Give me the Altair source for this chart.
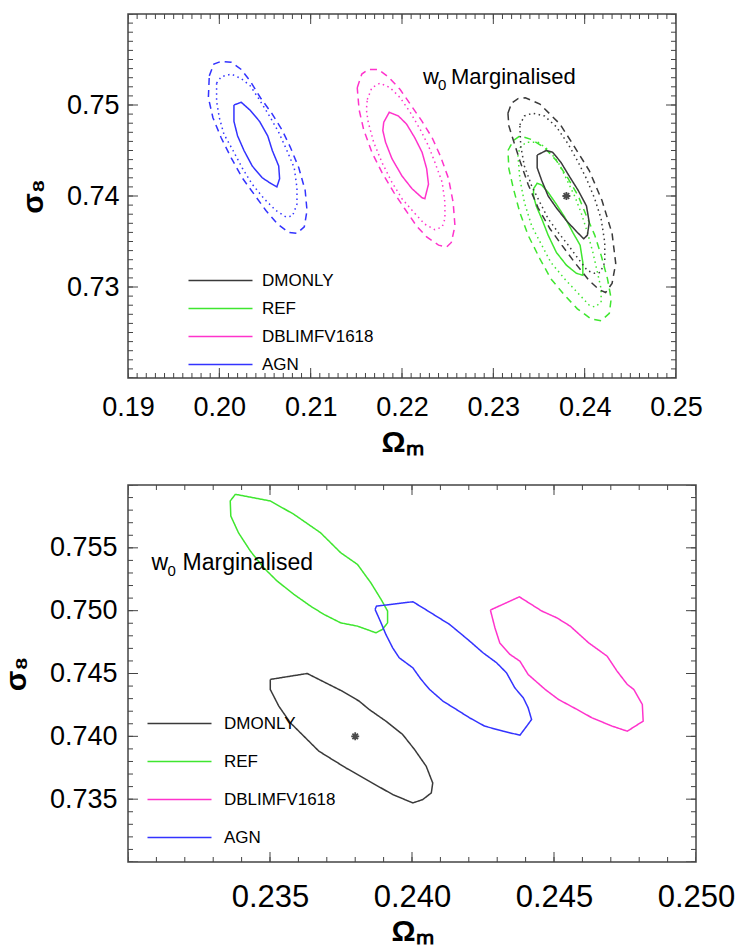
import altair as alt
import pandas as pd

FONT = "Liberation Sans, Arial, Helvetica, sans-serif"
MODELS = ["DMONLY", "REF", "DBLIMFV1618", "AGN"]
COLORS = ["#3a3a3a", "#3fe62f", "#ff33cc", "#3333ff"]
LEVELS = ["solid", "dotted", "dashed"]
DASHES = [[1, 0], [1.5, 3.5], [7, 5]]

# ---------------- top panel (0.19-0.25 x 0.72-0.76) ----------------
TOP_AGN_SOLID_X = [0.2016, 0.2024, 0.2034, 0.2044, 0.2053, 0.2058, 0.2065, 0.2066, 0.2063, 0.2056, 0.2047, 0.2036, 0.2027, 0.2020, 0.2016]
TOP_AGN_SOLID_Y = [0.7500, 0.7503, 0.7494, 0.7482, 0.7466, 0.7450, 0.7433, 0.7419, 0.7410, 0.7414, 0.7420, 0.7433, 0.7450, 0.7466, 0.7482]
TOP_AGN_DOT_X = [0.1997, 0.2002, 0.2013, 0.2024, 0.2034, 0.2045, 0.2056, 0.2065, 0.2074, 0.2082, 0.2085, 0.2085, 0.2080, 0.2073, 0.2062, 0.2049, 0.2036, 0.2025, 0.2015, 0.2005, 0.2000, 0.1997]
TOP_AGN_DOT_Y = [0.7524, 0.7531, 0.7534, 0.7529, 0.7521, 0.7504, 0.7486, 0.7470, 0.7450, 0.7431, 0.7409, 0.7391, 0.7378, 0.7377, 0.7384, 0.7397, 0.7413, 0.7431, 0.7450, 0.7468, 0.7486, 0.7504]
TOP_AGN_DASH_X = [0.1989, 0.1994, 0.2002, 0.2013, 0.2024, 0.2034, 0.2045, 0.2058, 0.2069, 0.2078, 0.2087, 0.2094, 0.2096, 0.2093, 0.2085, 0.2076, 0.2064, 0.2051, 0.2038, 0.2025, 0.2013, 0.2002, 0.1993, 0.1988]
TOP_AGN_DASH_Y = [0.7532, 0.7545, 0.7548, 0.7547, 0.7539, 0.7526, 0.7508, 0.7490, 0.7472, 0.7453, 0.7431, 0.7406, 0.7384, 0.7366, 0.7359, 0.7360, 0.7369, 0.7384, 0.7402, 0.7420, 0.7442, 0.7464, 0.7486, 0.7508]

TOP_DBL_SOLID_X = [0.2180, 0.2186, 0.2196, 0.2205, 0.2214, 0.2222, 0.2227, 0.2229, 0.2225, 0.2222, 0.2211, 0.2200, 0.2189, 0.2182, 0.2179]
TOP_DBL_SOLID_Y = [0.7481, 0.7492, 0.7488, 0.7479, 0.7464, 0.7448, 0.7430, 0.7413, 0.7397, 0.7398, 0.7408, 0.7422, 0.7441, 0.7459, 0.7472]
TOP_DBL_DOT_X = [0.2162, 0.2167, 0.2176, 0.2187, 0.2198, 0.2209, 0.2220, 0.2229, 0.2236, 0.2244, 0.2247, 0.2247, 0.2244, 0.2236, 0.2225, 0.2213, 0.2200, 0.2189, 0.2178, 0.2169, 0.2163, 0.2161]
TOP_DBL_DOT_Y = [0.7506, 0.7519, 0.7524, 0.7519, 0.7508, 0.7492, 0.7473, 0.7455, 0.7437, 0.7415, 0.7393, 0.7375, 0.7366, 0.7363, 0.7369, 0.7382, 0.7397, 0.7415, 0.7437, 0.7459, 0.7481, 0.7495]
TOP_DBL_DASH_X = [0.2151, 0.2156, 0.2163, 0.2174, 0.2185, 0.2198, 0.2209, 0.2222, 0.2233, 0.2242, 0.2251, 0.2256, 0.2258, 0.2254, 0.2249, 0.2240, 0.2227, 0.2216, 0.2203, 0.2191, 0.2178, 0.2167, 0.2158, 0.2153]
TOP_DBL_DASH_Y = [0.7519, 0.7534, 0.7539, 0.7539, 0.7531, 0.7517, 0.7501, 0.7482, 0.7464, 0.7444, 0.7419, 0.7393, 0.7367, 0.7349, 0.7344, 0.7346, 0.7355, 0.7367, 0.7386, 0.7404, 0.7426, 0.7448, 0.7473, 0.7495]

TOP_DM_SOLID_X = [0.2348, 0.2358, 0.2365, 0.2374, 0.2383, 0.2393, 0.2402, 0.2405, 0.2403, 0.2399, 0.2391, 0.2380, 0.2369, 0.2360, 0.2353, 0.2348]
TOP_DM_SOLID_Y = [0.7445, 0.7450, 0.7448, 0.7437, 0.7422, 0.7406, 0.7389, 0.7371, 0.7357, 0.7353, 0.7361, 0.7373, 0.7387, 0.7400, 0.7417, 0.7431]
TOP_DM_DOT_X = [0.2329, 0.2334, 0.2343, 0.2356, 0.2369, 0.2382, 0.2393, 0.2402, 0.2411, 0.2418, 0.2422, 0.2422, 0.2417, 0.2411, 0.2403, 0.2393, 0.2382, 0.2371, 0.2360, 0.2351, 0.2342, 0.2334, 0.2330]
TOP_DM_DOT_Y = [0.7478, 0.7488, 0.7491, 0.7488, 0.7476, 0.7457, 0.7437, 0.7419, 0.7397, 0.7375, 0.7349, 0.7327, 0.7316, 0.7315, 0.7318, 0.7331, 0.7346, 0.7360, 0.7375, 0.7393, 0.7411, 0.7433, 0.7455]
TOP_DM_DASH_X = [0.2316, 0.2320, 0.2327, 0.2335, 0.2351, 0.2373, 0.2387, 0.2405, 0.2419, 0.2430, 0.2434, 0.2430, 0.2423, 0.2416, 0.2405, 0.2389, 0.2375, 0.2362, 0.2349, 0.2338, 0.2329, 0.2322, 0.2317]
TOP_DM_DASH_Y = [0.7491, 0.7502, 0.7507, 0.7508, 0.7501, 0.7479, 0.7457, 0.7428, 0.7395, 0.7359, 0.7326, 0.7304, 0.7294, 0.7297, 0.7307, 0.7327, 0.7346, 0.7364, 0.7387, 0.7413, 0.7439, 0.7461, 0.7477]

TOP_REF_SOLID_X = [0.2344, 0.2348, 0.2353, 0.2360, 0.2369, 0.2378, 0.2387, 0.2395, 0.2398, 0.2398, 0.2391, 0.2380, 0.2369, 0.2360, 0.2353, 0.2347, 0.2344]
TOP_REF_SOLID_Y = [0.7408, 0.7414, 0.7412, 0.7404, 0.7391, 0.7377, 0.7360, 0.7346, 0.7327, 0.7313, 0.7315, 0.7324, 0.7338, 0.7357, 0.7375, 0.7389, 0.7400]
TOP_REF_DOT_X = [0.2329, 0.2336, 0.2349, 0.2360, 0.2371, 0.2380, 0.2389, 0.2396, 0.2403, 0.2409, 0.2414, 0.2418, 0.2418, 0.2411, 0.2405, 0.2392, 0.2378, 0.2363, 0.2353, 0.2342, 0.2334, 0.2329, 0.2327]
TOP_REF_DOT_Y = [0.7453, 0.7459, 0.7459, 0.7451, 0.7437, 0.7419, 0.7400, 0.7382, 0.7360, 0.7338, 0.7316, 0.7298, 0.7283, 0.7278, 0.7280, 0.7294, 0.7309, 0.7327, 0.7346, 0.7367, 0.7393, 0.7419, 0.7444]
TOP_REF_DASH_X = [0.2316, 0.2322, 0.2329, 0.2342, 0.2356, 0.2369, 0.2382, 0.2393, 0.2402, 0.2411, 0.2418, 0.2425, 0.2429, 0.2427, 0.2418, 0.2407, 0.2392, 0.2378, 0.2363, 0.2351, 0.2338, 0.2329, 0.2322, 0.2317]
TOP_REF_DASH_Y = [0.7450, 0.7461, 0.7466, 0.7462, 0.7453, 0.7439, 0.7419, 0.7400, 0.7378, 0.7357, 0.7335, 0.7309, 0.7287, 0.7271, 0.7263, 0.7265, 0.7276, 0.7291, 0.7309, 0.7331, 0.7357, 0.7382, 0.7408, 0.7430]

# ---------------- bottom panel (0.230-0.250 x 0.730-0.760) ----------------
BOT_REF_X = [0.23378, 0.23360, 0.23362, 0.23389, 0.23431, 0.23478, 0.23525, 0.23584, 0.23643, 0.23690, 0.23749, 0.23808, 0.23873, 0.23896, 0.23914, 0.23914, 0.23891, 0.23855, 0.23808, 0.23749, 0.23678, 0.23584, 0.23501]
BOT_REF_Y = [0.75926, 0.75873, 0.75753, 0.75620, 0.75474, 0.75341, 0.75236, 0.75130, 0.75036, 0.74970, 0.74903, 0.74877, 0.74824, 0.74851, 0.74903, 0.74997, 0.75090, 0.75222, 0.75368, 0.75461, 0.75620, 0.75767, 0.75873]
BOT_DM_X = [0.23501, 0.23631, 0.23696, 0.23755, 0.23814, 0.23849, 0.23908, 0.23967, 0.24009, 0.24050, 0.24073, 0.24068, 0.24038, 0.24003, 0.23932, 0.23849, 0.23767, 0.23672, 0.23613, 0.23572, 0.23531, 0.23501]
BOT_DM_Y = [0.74453, 0.74500, 0.74426, 0.74359, 0.74280, 0.74214, 0.74121, 0.74015, 0.73895, 0.73762, 0.73629, 0.73550, 0.73497, 0.73470, 0.73537, 0.73643, 0.73749, 0.73882, 0.74015, 0.74107, 0.74240, 0.74373]
BOT_AGN_X = [0.23870, 0.23875, 0.24003, 0.24038, 0.24085, 0.24132, 0.24168, 0.24203, 0.24250, 0.24298, 0.24333, 0.24362, 0.24392, 0.24409, 0.24421, 0.24404, 0.24380, 0.24321, 0.24256, 0.24203, 0.24156, 0.24109, 0.24062, 0.24032, 0.24003, 0.23955, 0.23932, 0.23908, 0.23891]
BOT_AGN_Y = [0.75010, 0.75036, 0.75071, 0.75023, 0.74957, 0.74891, 0.74824, 0.74758, 0.74665, 0.74585, 0.74505, 0.74386, 0.74306, 0.74227, 0.74134, 0.74081, 0.74009, 0.74041, 0.74081, 0.74147, 0.74214, 0.74280, 0.74373, 0.74453, 0.74545, 0.74625, 0.74704, 0.74811, 0.74903]
BOT_DBL_X = [0.24276, 0.24378, 0.24457, 0.24510, 0.24557, 0.24622, 0.24687, 0.24722, 0.24758, 0.24781, 0.24811, 0.24814, 0.24758, 0.24705, 0.24634, 0.24581, 0.24516, 0.24469, 0.24409, 0.24380, 0.24345, 0.24309, 0.24292]
BOT_DBL_Y = [0.75005, 0.75110, 0.74997, 0.74943, 0.74877, 0.74744, 0.74638, 0.74519, 0.74413, 0.74373, 0.74254, 0.74121, 0.74041, 0.74081, 0.74147, 0.74214, 0.74293, 0.74373, 0.74492, 0.74598, 0.74652, 0.74744, 0.74864]

FIDUCIAL_X = [0.238]
FIDUCIAL_Y = [0.740]

TOP_LABEL_X = [0.2223]
TOP_LABEL_Y = [0.7523]
BOT_LABEL_X = [0.23083]
BOT_LABEL_Y = [0.7532]

# labelled ticks
TOP_X_LABELS = [0.19, 0.20, 0.21, 0.22, 0.23, 0.24, 0.25]
TOP_Y_LABELS = [0.73, 0.74, 0.75]
BOT_X_LABELS = [0.235, 0.240, 0.245, 0.250]
BOT_Y_LABELS = [0.735, 0.740, 0.745, 0.750, 0.755]
# all major tick positions
TOP_X_MAJOR = [0.19, 0.20, 0.21, 0.22, 0.23, 0.24, 0.25]
TOP_Y_MAJOR = [0.72, 0.73, 0.74, 0.75, 0.76]
BOT_X_MAJOR = [0.230, 0.235, 0.240, 0.245, 0.250]
BOT_Y_MAJOR = [0.730, 0.735, 0.740, 0.745, 0.750, 0.755, 0.760]
# minor tick positions (every 0.001)
TOP_X_MINOR = [round(0.19 + 0.001 * i, 3) for i in range(61)]
TOP_Y_MINOR = [round(0.72 + 0.001 * i, 3) for i in range(41)]
BOT_X_MINOR = [round(0.23 + 0.001 * i, 3) for i in range(21)]
BOT_Y_MINOR = [round(0.73 + 0.001 * i, 3) for i in range(31)]

ASTERISK = "M-1,0L1,0M0,-1L0,1M-0.7,-0.7L0.7,0.7M-0.7,0.7L0.7,-0.7"
LEGEND_LINE = "M-16,0L16,0"
TICK_COLOR = "#444444"


def ring(model, level, xs, ys):
    pts = list(zip(xs, ys)) + [(xs[0], ys[0])]
    return [{"model": model, "level": level, "key": model + "_" + level, "i": i, "x": x, "y": y}
            for i, (x, y) in enumerate(pts)]


top_rows = []
for m, lv, xs, ys in [
    ("AGN", "solid", TOP_AGN_SOLID_X, TOP_AGN_SOLID_Y),
    ("AGN", "dotted", TOP_AGN_DOT_X, TOP_AGN_DOT_Y),
    ("AGN", "dashed", TOP_AGN_DASH_X, TOP_AGN_DASH_Y),
    ("DBLIMFV1618", "solid", TOP_DBL_SOLID_X, TOP_DBL_SOLID_Y),
    ("DBLIMFV1618", "dotted", TOP_DBL_DOT_X, TOP_DBL_DOT_Y),
    ("DBLIMFV1618", "dashed", TOP_DBL_DASH_X, TOP_DBL_DASH_Y),
    ("REF", "solid", TOP_REF_SOLID_X, TOP_REF_SOLID_Y),
    ("REF", "dotted", TOP_REF_DOT_X, TOP_REF_DOT_Y),
    ("REF", "dashed", TOP_REF_DASH_X, TOP_REF_DASH_Y),
    ("DMONLY", "solid", TOP_DM_SOLID_X, TOP_DM_SOLID_Y),
    ("DMONLY", "dotted", TOP_DM_DOT_X, TOP_DM_DOT_Y),
    ("DMONLY", "dashed", TOP_DM_DASH_X, TOP_DM_DASH_Y),
]:
    top_rows += ring(m, lv, xs, ys)
top_df = pd.DataFrame(top_rows)

bot_rows = []
for m, xs, ys in [
    ("REF", BOT_REF_X, BOT_REF_Y),
    ("DMONLY", BOT_DM_X, BOT_DM_Y),
    ("AGN", BOT_AGN_X, BOT_AGN_Y),
    ("DBLIMFV1618", BOT_DBL_X, BOT_DBL_Y),
]:
    bot_rows += ring(m, "solid", xs, ys)
bot_df = pd.DataFrame(bot_rows)

star_df = pd.DataFrame({"x": FIDUCIAL_X, "y": FIDUCIAL_Y})
top_lab = pd.DataFrame({"x": TOP_LABEL_X, "y": TOP_LABEL_Y})
bot_lab = pd.DataFrame({"x": BOT_LABEL_X, "y": BOT_LABEL_Y})


def ax(orient, values, fmt, label_size, label_pad, title_size, title_pad):
    return alt.Axis(orient=orient, values=values, ticks=False, tickSize=0,
                    domain=False, grid=False, format=fmt,
                    labelFontSize=label_size, labelFont=FONT, labelColor="black",
                    labelPadding=label_pad, labelOverlap=False, labelFlush=False,
                    labelBound=False, titleFont=FONT, titleFontSize=title_size,
                    titleFontWeight="bold", titleColor="black",
                    titlePadding=title_pad)


def tick_layers(xs, ys, xdom, ydom, xmaj, ymaj, xmin, ymin):
    layers = []
    for vals, length in [(xmaj, 20), (xmin, 10)]:
        d = pd.DataFrame({"x": vals + vals,
                          "y": [ydom[0]] * len(vals) + [ydom[1]] * len(vals)})
        layers.append(alt.Chart(d).mark_tick(orient="vertical", size=length,
                                             thickness=1, color=TICK_COLOR,
                                             clip=True, opacity=1).encode(
            x=alt.X("x:Q", scale=xs), y=alt.Y("y:Q", scale=ys)))
    for vals, length in [(ymaj, 20), (ymin, 10)]:
        d = pd.DataFrame({"y": vals + vals,
                          "x": [xdom[0]] * len(vals) + [xdom[1]] * len(vals)})
        layers.append(alt.Chart(d).mark_tick(orient="horizontal", size=length,
                                             thickness=1, color=TICK_COLOR,
                                             clip=True, opacity=1).encode(
            x=alt.X("x:Q", scale=xs), y=alt.Y("y:Q", scale=ys)))
    return layers


def panel(df, lab_df, xdom, ydom, xlab, ylab, xmaj, ymaj, xmin, ymin, fmt,
          width, height, lsize, ldx, ldy, lrow, loff, lab_size, sub_dx, marg_dx,
          tick_lab_x, tick_lab_y, lpad_x, lpad_y, tpad_x, tpad_y):
    xs = alt.Scale(domain=xdom, nice=False, zero=False)
    ys = alt.Scale(domain=ydom, nice=False, zero=False)
    lines = alt.Chart(df).mark_line(strokeWidth=1.5, clip=True).encode(
        x=alt.X("x:Q", scale=xs, title="Ωₘ",
                axis=ax("bottom", xlab, fmt, tick_lab_x, lpad_x, 30, tpad_x)),
        y=alt.Y("y:Q", scale=ys, title="σ₈",
                axis=ax("left", ylab, fmt, tick_lab_y, lpad_y, 30, tpad_y)),
        color=alt.Color("model:N", scale=alt.Scale(domain=MODELS, range=COLORS),
                        legend=alt.Legend(title=None, orient="none", legendX=ldx,
                                          legendY=ldy, symbolType=LEGEND_LINE,
                                          symbolSize=16, symbolStrokeWidth=1.6,
                                          labelFont=FONT, labelFontSize=lsize,
                                          labelColor="black", labelOffset=loff,
                                          rowPadding=lrow, padding=0)),
        strokeDash=alt.StrokeDash("level:N", scale=alt.Scale(domain=LEVELS, range=DASHES),
                                  legend=None),
        detail="key:N",
        order="i:Q",
    )
    star = alt.Chart(star_df).mark_point(shape=ASTERISK, filled=False, size=64,
                                         strokeWidth=1.8, color="black").encode(
        x=alt.X("x:Q", scale=xs), y=alt.Y("y:Q", scale=ys))
    w = alt.Chart(lab_df).mark_text(text="w", align="left", baseline="alphabetic",
                                    font=FONT, fontSize=lab_size, color="black").encode(
        x=alt.X("x:Q", scale=xs), y=alt.Y("y:Q", scale=ys))
    sub = alt.Chart(lab_df).mark_text(text="0", align="left", baseline="alphabetic",
                                      dx=sub_dx, dy=6, font=FONT,
                                      fontSize=round(lab_size * 0.66), color="black").encode(
        x=alt.X("x:Q", scale=xs), y=alt.Y("y:Q", scale=ys))
    marg = alt.Chart(lab_df).mark_text(text="Marginalised", align="left",
                                       baseline="alphabetic", dx=marg_dx, font=FONT,
                                       fontSize=lab_size, color="black").encode(
        x=alt.X("x:Q", scale=xs), y=alt.Y("y:Q", scale=ys))
    ticks = tick_layers(xs, ys, xdom, ydom, xmaj, ymaj, xmin, ymin)
    return alt.layer(lines, *ticks, star, w, sub, marg).properties(
        width=width, height=height)


top = panel(top_df, top_lab, [0.19, 0.25], [0.72, 0.76], TOP_X_LABELS, TOP_Y_LABELS,
            TOP_X_MAJOR, TOP_Y_MAJOR, TOP_X_MINOR, TOP_Y_MINOR, ".2f", 548, 364,
            17, 84, 258, 10, 33, 22, 15, 28, 27, 27, 16, 9, 7, 18)
bottom = panel(bot_df, bot_lab, [0.23, 0.25], [0.73, 0.76], BOT_X_LABELS, BOT_Y_LABELS,
               BOT_X_MAJOR, BOT_Y_MAJOR, BOT_X_MINOR, BOT_Y_MINOR, ".3f", 568, 377,
               17, 43, 230, 20, 36, 23, 16, 31, 31, 27, 20, 11, 4, 18)

chart = alt.vconcat(top, bottom, spacing=26).resolve_legend(
    color="independent").configure_view(stroke="#444444", strokeWidth=1.5).properties(
    padding={"left": 0, "top": 13, "right": 0, "bottom": 0}, background="white")

chart.save("out.html", embed_options={"renderer": "svg", "actions": False})
